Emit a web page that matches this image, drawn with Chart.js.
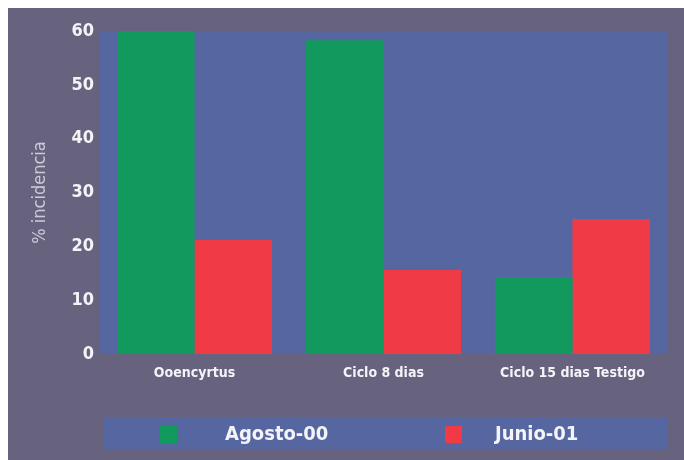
<!DOCTYPE html>
<html>
<head>
<meta charset="utf-8">
<script src="https://cdn.jsdelivr.net/npm/chart.js@4/dist/chart.umd.min.js"></script>
<style>
  html, body { margin: 0; padding: 0; background: #ffffff; }
  #wrap { width: 684px; height: 460px; }
</style>
</head>
<body>
<div id="wrap"><canvas id="incidencia"></canvas></div>
<script>
const categories = ['Ooencyrtus', 'Ciclo 8 dias', 'Ciclo 15 dias Testigo'];
const agosto00 = [60, 58.3, 14.2];
const junio01 = [21.2, 15.6, 25.1];
const yTicks = [0, 10, 20, 30, 40, 50, 60];

const narrow = "'Liberation Sans Narrow', 'DejaVu Sans Condensed', sans-serif";
const colors = ['#129a5e', '#f03a46'];

// grey page + blue plot area
const backdrop = {
    id: 'backdrop',
    beforeDraw(chart) {
        const c = chart.ctx;
        const a = chart.chartArea;
        c.save();
        c.fillStyle = '#ffffff';
        c.fillRect(0, 0, chart.width, chart.height);
        c.fillStyle = '#67637f';
        c.fillRect(8, 8, chart.width - 8, chart.height - 8);
        c.fillStyle = '#5666a0';
        c.fillRect(a.left, a.top, a.right - a.left, a.bottom - a.top);
        c.restore();
    }
};

// legend strip at the bottom
const legendStrip = {
    id: 'legendStrip',
    afterDraw(chart) {
        const c = chart.ctx;
        const a = chart.chartArea;
        c.save();
        c.fillStyle = '#5666a0';
        c.fillRect(a.left + 3, 418, a.right - a.left - 3, 32);
        const pos = [{ box: 160, label: 225 }, { box: 445, label: 495 }];
        c.font = 'bold 20px ' + narrow;
        c.textBaseline = 'middle';
        pos.forEach((p, i) => {
            c.fillStyle = colors[i];
            c.fillRect(p.box, 426, 17, 17);
            c.fillStyle = '#f4f4f8';
            c.fillText(chart.data.datasets[i].label, p.label, 435);
        });
        c.restore();
    }
};

new Chart(document.getElementById('incidencia'), {
    type: 'bar',
    data: {
        labels: categories,
        datasets: [{
            label: 'Agosto-00',
            data: agosto00,
            backgroundColor: colors[0],
            categoryPercentage: 0.82,
            barPercentage: 1
        }, {
            label: 'Junio-01',
            data: junio01,
            backgroundColor: colors[1],
            categoryPercentage: 0.82,
            barPercentage: 1
        }]
    },
    options: {
        responsive: true,
        maintainAspectRatio: false,
        animation: false,
        layout: {
            padding: { left: 8, top: 31, right: 17, bottom: 0 }
        },
        plugins: {
            legend: { display: false },
            tooltip: { enabled: false }
        },
        scales: {
            x: {
                grid: { display: false, drawTicks: false },
                border: { display: false },
                ticks: {
                    color: '#f4f4f8',
                    padding: 11,
                    font: { family: narrow, size: 14, weight: 'bold' }
                },
                afterFit(scale) { scale.height = 106; }
            },
            y: {
                min: 0,
                max: 60,
                afterBuildTicks(scale) {
                    scale.ticks = yTicks.map(v => ({ value: v }));
                },
                grid: { display: false, drawTicks: false },
                border: { display: false },
                ticks: {
                    color: '#f4f4f8',
                    padding: 6,
                    font: { family: narrow, size: 18, weight: 'bold' }
                },
                title: {
                    display: true,
                    text: '% incidencia',
                    color: '#cbc9da',
                    padding: { top: 22, bottom: 0 },
                    font: { family: narrow, size: 18 }
                },
                afterFit(scale) { scale.width = 92; }
            }
        }
    },
    plugins: [backdrop, legendStrip]
});
</script>
</body>
</html>
